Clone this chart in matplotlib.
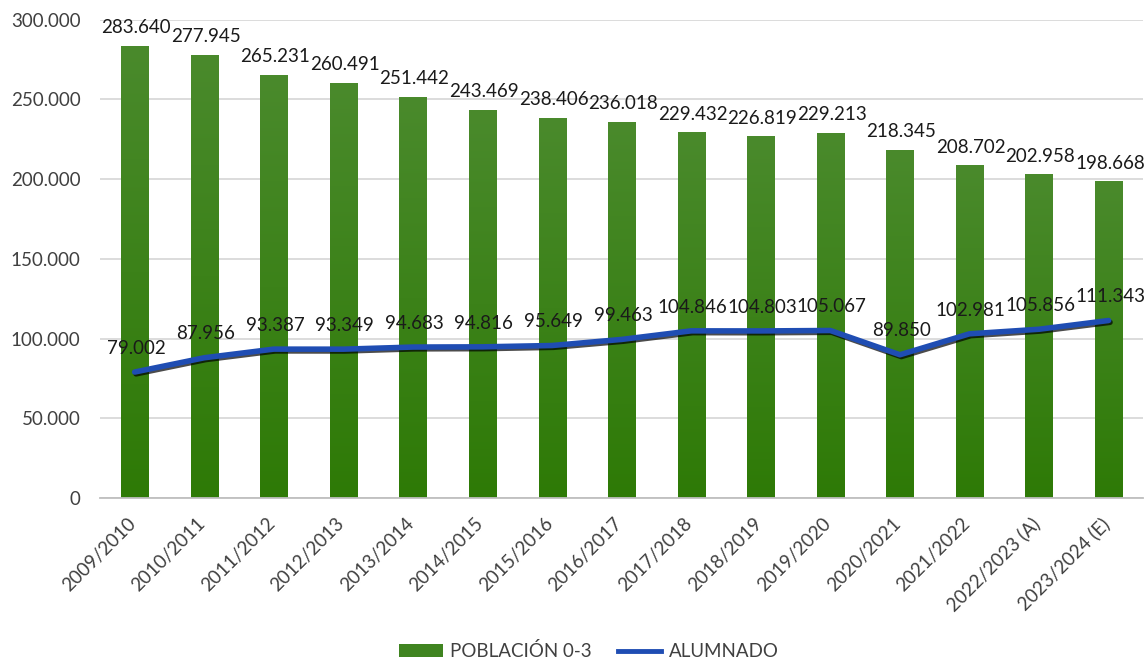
import matplotlib
matplotlib.use("Agg")
import matplotlib.pyplot as plt
import numpy as np
from matplotlib import patheffects as pe
from matplotlib import transforms as mtrans
from matplotlib.ticker import FuncFormatter
from matplotlib.colors import LinearSegmentedColormap
from matplotlib.patches import Patch
from matplotlib.lines import Line2D

categories = ["2009/2010", "2010/2011", "2011/2012", "2012/2013", "2013/2014",
              "2014/2015", "2015/2016", "2016/2017", "2017/2018", "2018/2019",
              "2019/2020", "2020/2021", "2021/2022", "2022/2023 (A)", "2023/2024 (E)"]
poblacion = [283640, 277945, 265231, 260491, 251442, 243469, 238406, 236018,
             229432, 226819, 229213, 218345, 208702, 202958, 198668]
alumnado = [79002, 87956, 93387, 93349, 94683, 94816, 95649, 99463,
            104846, 104803, 105067, 89850, 102981, 105856, 111343]

plt.rcParams['font.family'] = ['Lato', 'DejaVu Sans']

def fmt(v):
    return f"{v:,.0f}".replace(",", ".")

fig = plt.figure(figsize=(11.48, 6.6), dpi=100)
ax = fig.add_axes([0.087, 0.2455, 0.909, 0.7245])

x = np.arange(len(categories))
bars = ax.bar(x, poblacion, width=0.39, color="#3f8420", zorder=2, label="POBLACIÓN 0-3")

grad = np.linspace(0, 1, 256).reshape(-1, 1)
cmap = LinearSegmentedColormap.from_list("g", ["#2e7a06", "#4a8a2c"])
for b in bars:
    bx, by = b.get_x(), b.get_y()
    w, h = b.get_width(), b.get_height()
    im = ax.imshow(grad, extent=[bx, bx + w, by, by + h], origin="lower",
                   cmap=cmap, aspect="auto", zorder=2.1)
    im.set_clip_path(b)

line, = ax.plot(x, alumnado, color="#1f4db3", lw=4, zorder=4, label="ALUMNADO",
                solid_capstyle="round",
                path_effects=[pe.SimpleLineShadow(offset=(1.0, -1.3), shadow_color="black", alpha=0.7),
                              pe.Normal()])

for xi, v in zip(x, poblacion):
    ax.annotate(fmt(v), (xi, v), xytext=(1, 7), textcoords="offset points",
                ha="center", va="bottom", fontsize=13.5, color="#1a1a1a", zorder=5)
for xi, v in zip(x, alumnado):
    ax.annotate(fmt(v), (xi, v), xytext=(1, 11), textcoords="offset points",
                ha="center", va="bottom", fontsize=13.5, color="#1a1a1a", zorder=5)

ax.set_xlim(-0.5, len(categories) - 0.5)
ax.set_ylim(0, 300000)
ax.set_yticks(np.arange(0, 300001, 50000))
ax.yaxis.set_major_formatter(FuncFormatter(lambda v, p: fmt(v)))
ax.grid(axis="y", color="#d9d9d9", lw=1.3, zorder=0)
ax.set_axisbelow(True)
for s in ["top", "right", "left"]:
    ax.spines[s].set_visible(False)
ax.spines["bottom"].set_color("#bfbfbf")
ax.spines["bottom"].set_linewidth(1.3)
ax.tick_params(axis="both", length=0, labelsize=13.5, colors="#404040")
ax.tick_params(axis="y", pad=14)
ax.set_xticks(x)
ax.set_xticklabels(categories, rotation=45, ha="right", rotation_mode="anchor")
ax.tick_params(axis="x", pad=12)
shift = mtrans.ScaledTranslation(-8 / 100, 0, fig.dpi_scale_trans)
for lbl in ax.get_xticklabels():
    lbl.set_transform(lbl.get_transform() + shift)

handles = [Patch(facecolor="#3f8420", label="POBLACIÓN 0-3"),
           Line2D([0], [0], color="#1f4db3", lw=3.5, label="ALUMNADO")]
fig.legend(handles=handles, loc="center", bbox_to_anchor=(0.513, 0.013), ncol=2,
           frameon=False, fontsize=13.5, handlelength=2.3, columnspacing=1.4,
           handletextpad=0.4, labelcolor="#404040")

fig.savefig("out.png", dpi=100)
